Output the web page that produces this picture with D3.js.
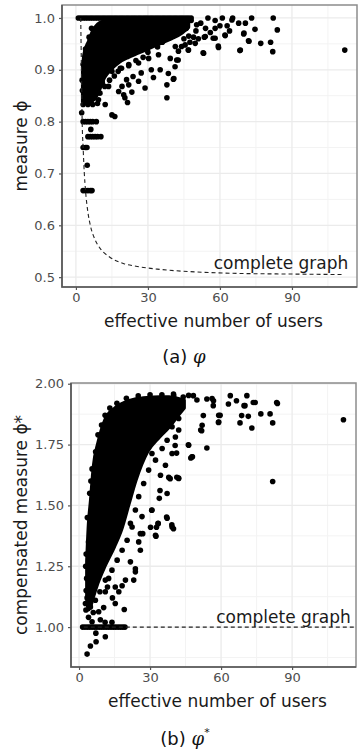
<!DOCTYPE html>
<html>
<head>
<meta charset="utf-8">
<script src="https://cdn.jsdelivr.net/npm/d3@7"></script>
<style>
  body { margin: 0; background: #fff; }
  svg { display: block; font-family: "DejaVu Sans", sans-serif; }
</style>
</head>
<body>
<script>
// ---- panel (a): measure phi ----
const ticksXA = [0, 30, 60, 90];
const minorXA = [15, 45, 75, 105];
const ticksYA = [0.5, 0.6, 0.7, 0.8, 0.9, 1.0];
const minorYA = [0.55, 0.65, 0.75, 0.85, 0.95];

// saturated cloud: [x, low, high]
const coreA = [
  [2.7, 0.838, 0.9], [3.3, 0.836, 0.93], [5.3, 0.836, 0.956], [7, 0.84, 0.976],
  [9, 0.852, 0.988], [12, 0.885, 0.995], [15, 0.902, 1.0], [18, 0.914, 1.0],
  [22, 0.924, 1.0], [26, 0.932, 1.0], [30, 0.94, 1.0], [35, 0.95, 1.0],
  [40, 0.96, 1.0], [44, 0.97, 1.0], [47, 0.982, 1.0]
];
// row of users with phi = 1
const barA = [1, 2, 3, 4, 5, 6, 7, 8, 9, 10, 11, 12, 13, 14, 15, 16, 17, 18, 19, 20, 21, 22, 23, 24,
  25, 26, 27, 28, 29, 30, 31, 32, 33, 34, 35, 36, 37, 38, 39, 40, 41, 42, 43, 44, 45, 46, 47, 48];
const pointsA = [
  [37.9, 0.846], [37.9, 0.871], [40.6, 0.882], [32.3, 0.885], [28.8, 0.865], [23.3, 0.857], [19.9, 0.852],
  [21.5, 0.837], [15, 0.813], [16.2, 0.81], [26.1, 0.878], [35.1, 0.9], [38.5, 0.893], [42, 0.919],
  [39.3, 0.922], [31.4, 0.9], [27.2, 0.894], [23.8, 0.887], [17.8, 0.858], [19.2, 0.868], [22, 0.871],
  [13.6, 0.868], [12.2, 0.833], [9.4, 0.842], [20.4, 0.846], [17.6, 0.897], [21.1, 0.881],
  [53.2, 0.932], [53.9, 0.964], [58, 0.961], [59.4, 0.943], [62.2, 0.966], [68.5, 0.938], [69.9, 0.969],
  [71.9, 0.956], [46.9, 0.938], [49.7, 0.951], [58, 0.98], [65, 0.996], [70.6, 0.99], [45.5, 0.948],
  [42.7, 0.936], [82.2, 1.0], [83.9, 0.977], [82, 0.935], [81.1, 0.953], [77, 0.951], [72.1, 0.955],
  [68.3, 0.937], [70, 0.971], [74.6, 0.978], [73.2, 1.0], [65.3, 1.0], [67.8, 0.99], [62.1, 0.967],
  [59.3, 0.946], [53, 0.933], [57.2, 0.961], [53.5, 0.963], [112, 0.938], [40.8, 0.883], [42.6, 0.919],
  [41.3, 0.906], [47.5, 0.953], [46.8, 0.938], [50.3, 0.987],
  [44, 0.99], [46, 0.98], [48, 0.995], [50, 0.975], [52, 0.99], [54, 0.98], [55, 1.0], [56, 0.972],
  [58, 0.995], [60, 0.985], [61, 1.0], [63, 0.985], [64, 0.975], [47, 0.965], [45, 0.96], [49, 0.963],
  [51, 0.96], [44, 0.945], [43, 0.975], [41, 0.97], [39, 0.962], [36, 0.953], [34, 0.944], [30, 0.934],
  [28, 0.924], [25, 0.918], [22, 0.908], [19, 0.903], [16, 0.888], [14, 0.88], [12, 0.868], [10, 0.855],
  [11, 0.875], [6.5, 0.98], [5.5, 0.963], [4, 0.94], [3, 0.91], [2.6, 0.88],
  [15, 0.897], [18.5, 0.903], [22, 0.91], [26.1, 0.913], [30.3, 0.922], [34.4, 0.929], [41.4, 0.945],
  [10.8, 0.878], [8.75, 0.858], [2.7, 0.86], [4.5, 0.84], [7.5, 0.845],
  [3, 0.8], [4, 0.8], [5, 0.8], [6, 0.8], [7, 0.8], [8.5, 0.8],
  [5, 0.771], [6, 0.771], [7, 0.771], [8, 0.771], [9, 0.771], [10.4, 0.771], [6.2, 0.785],
  [3, 0.75], [4, 0.75], [4.6, 0.75], [4.7, 0.716],
  [3, 0.667], [4, 0.667], [5, 0.667], [6, 0.667], [6.7, 0.667],
  [2.4, 0.817], [3, 0.833], [5, 0.833], [7, 0.833], [9, 0.835]
];
// complete graph reference
const refA = [
  [2, 1.0], [2.3, 0.9], [2.6, 0.8], [3, 0.75], [3.5, 0.7], [4, 0.667], [5, 0.625], [6, 0.6],
  [8, 0.572], [10, 0.556], [14, 0.539], [20, 0.526], [25, 0.521], [35, 0.515], [50, 0.51],
  [70, 0.507], [90, 0.506], [111, 0.505]
];

// ---- panel (b): compensated measure phi* ----
const ticksXB = [0, 30, 60, 90];
const minorXB = [15, 45, 75, 105];
const ticksYB = [1.0, 1.25, 1.5, 1.75, 2.0];
const minorYB = [0.875, 1.125, 1.375, 1.625, 1.875];

const coreB = [
  [3.2, 1.12, 1.27], [3.9, 1.07, 1.42], [4.8, 1.08, 1.52], [6, 1.12, 1.66], [8, 1.18, 1.76],
  [11, 1.25, 1.855], [15, 1.33, 1.9], [18, 1.4, 1.918], [21, 1.5, 1.93], [24, 1.6, 1.938],
  [29, 1.72, 1.944], [34, 1.78, 1.946], [38, 1.82, 1.946], [42, 1.87, 1.94], [44.5, 1.9, 1.932]
];
const pointsB = [
  [111.7, 1.852], [81.8, 1.598], [81.8, 1.839], [80.7, 1.876], [76.8, 1.876], [83.8, 1.919], [73, 1.818],
  [71.5, 1.866], [68.7, 1.869], [68, 1.839], [69.7, 1.91], [74.4, 1.923], [58.9, 1.841], [59.6, 1.87],
  [54, 1.736], [52.5, 1.869], [51.8, 1.807], [47.2, 1.695], [47.9, 1.7], [46.2, 1.749], [42, 1.612],
  [38.5, 1.61], [39.9, 1.404], [39.2, 1.42], [40.6, 1.746], [41.2, 1.715], [56.7, 1.91], [63.1, 1.917],
  [66.5, 1.93], [39.9, 1.958], [48.3, 1.951], [54, 1.937], [63.9, 1.951], [70.9, 1.951], [73.6, 1.923],
  [83.5, 1.923], [70.1, 1.91], [56.8, 1.93], [46.3, 1.747], [47.7, 1.7], [42.1, 1.611], [37.9, 1.615],
  [36.5, 1.665], [34.4, 1.624], [37.2, 1.549], [33.9, 1.529], [30.8, 1.481], [37.2, 1.447], [33.4, 1.426],
  [26.6, 1.454], [30.8, 1.713], [39.3, 1.713], [52, 1.829], [51.4, 1.81], [59, 1.843], [59, 1.87],
  [40.7, 1.781], [42.1, 1.81], [56.2, 1.939], [46.3, 1.952], [49.8, 1.933], [37, 1.452], [32.5, 1.373],
  [32.7, 1.41], [26.9, 1.384], [41.3, 1.616], [34.2, 1.561], [30.7, 1.48],
  [39.3, 1.823], [42.1, 1.857], [37.2, 1.768], [35.1, 1.734], [32.3, 1.686], [29.4, 1.645], [27.3, 1.59],
  [25.2, 1.536], [23.8, 1.481], [21.7, 1.426], [22.4, 1.411], [20.3, 1.357], [18.2, 1.316], [16.1, 1.275],
  [13.9, 1.234], [11.1, 1.193], [8.8, 1.145], [6.9, 1.11], [4.8, 1.083],
  [3.4, 0.889], [4.8, 0.922], [7.2, 0.94], [11.1, 0.96],
  [1.5, 1], [2.5, 1], [3.5, 1], [4.5, 1], [5.5, 1], [6.5, 1], [7.5, 1], [8.5, 1], [9.5, 1], [10.5, 1],
  [11.5, 1], [12.5, 1], [13.5, 1], [14.5, 1], [15.5, 1], [16.5, 1], [17.5, 1], [18.5, 1], [19.4, 1],
  [5.5, 1.022], [7.1, 0.975], [13.9, 1.02], [2.7, 1.097], [2.9, 1.07], [8.3, 1.063], [10.4, 1.08],
  [19.1, 1.072], [15.3, 1.097], [14.1, 1.12], [16.8, 1.145], [18.2, 1.17], [19.6, 1.193], [23.1, 1.193],
  [23.8, 1.227], [25.9, 1.316], [25.9, 1.384], [32.3, 1.377], [30.2, 1.41], [33.4, 1.425], [39.3, 1.411],
  [25.2, 1.35], [21.7, 1.268], [23.8, 1.24], [12.5, 1.2], [12, 1.165], [15.3, 1.165], [11.1, 1.145],
  [3.4, 1.12], [4.8, 1.145], [9, 1.03], [11, 1.02], [4, 1.04], [6, 1.06], [3, 1.15], [3.2, 1.2],
  [2.8, 1.25], [3, 1.3], [4, 1.35], [3.5, 1.45], [4.5, 1.55], [5, 1.6], [5.5, 1.65], [7, 1.72], [8, 1.79],
  [9.5, 1.83], [11, 1.87], [13, 1.9], [16, 1.92], [20, 1.94], [25, 1.95], [30, 1.955], [35, 1.955],
  [40, 1.95], [44, 1.945]
];
const refB = [[2, 1.0], [117, 1.0]];

const W = 358, H = 753;
const svg = d3.select('body').append('svg').attr('width', W).attr('height', H);
svg.append('rect').attr('width', W).attr('height', H).attr('fill', '#fff');

function panel(o) {
  const x = d3.scaleLinear().domain(o.xDomain).range([o.left, o.right]);
  const y = d3.scaleLinear().domain(o.yDomain).range([o.bottom, o.top]);
  const g = svg.append('g');

  g.append('clipPath').attr('id', o.id)
    .append('rect').attr('x', o.left).attr('y', o.top)
    .attr('width', o.right - o.left).attr('height', o.bottom - o.top);

  // grid
  g.selectAll(null).data(o.minorY).enter().append('line')
    .attr('x1', o.left).attr('x2', o.right).attr('y1', d => y(d)).attr('y2', d => y(d))
    .attr('stroke', '#f3f3f3').attr('stroke-width', 1);
  g.selectAll(null).data(o.minorX).enter().append('line')
    .attr('y1', o.top).attr('y2', o.bottom).attr('x1', d => x(d)).attr('x2', d => x(d))
    .attr('stroke', '#f3f3f3').attr('stroke-width', 1);
  g.selectAll(null).data(o.ticksY).enter().append('line')
    .attr('x1', o.left).attr('x2', o.right).attr('y1', d => y(d)).attr('y2', d => y(d))
    .attr('stroke', '#ebebeb').attr('stroke-width', 1.3);
  g.selectAll(null).data(o.ticksX).enter().append('line')
    .attr('y1', o.top).attr('y2', o.bottom).attr('x1', d => x(d)).attr('x2', d => x(d))
    .attr('stroke', '#ebebeb').attr('stroke-width', 1.3);

  const plot = g.append('g').attr('clip-path', `url(#${o.id})`);

  // dense part of the cloud
  const area = d3.area().x(d => x(d[0])).y0(d => y(d[1])).y1(d => y(d[2])).curve(d3.curveMonotoneX);
  plot.append('path').datum(o.core).attr('d', area)
    .attr('fill', '#000').attr('stroke', '#000').attr('stroke-width', 3).attr('stroke-linejoin', 'round');

  plot.selectAll(null).data(o.points).enter().append('circle')
    .attr('cx', d => x(d[0])).attr('cy', d => y(d[1])).attr('r', 2.8).attr('fill', '#000');

  // reference line
  plot.append('path').datum(o.ref)
    .attr('d', d3.line().x(d => x(d[0])).y(d => y(d[1])).curve(d3.curveMonotoneX))
    .attr('fill', 'none').attr('stroke', '#222').attr('stroke-width', 1.1)
    .attr('stroke-dasharray', '4,3');

  g.append('text').attr('x', x(o.labelAt[0])).attr('y', y(o.labelAt[1]))
    .attr('text-anchor', 'end').attr('font-size', 17).attr('fill', '#1a1a1a')
    .text('complete graph');

  // frame
  g.append('rect').attr('x', o.left).attr('y', o.top)
    .attr('width', o.right - o.left).attr('height', o.bottom - o.top)
    .attr('fill', 'none').attr('stroke', '#8c8c8c').attr('stroke-width', 1.5);
  g.append('path')
    .attr('d', `M${o.left},${o.top}V${o.bottom}H${o.right}`)
    .attr('fill', 'none').attr('stroke', '#555').attr('stroke-width', 1.6);

  // axes
  const ax = g.append('g').attr('transform', `translate(0,${o.bottom})`)
    .call(d3.axisBottom(x).tickValues(o.ticksX).tickSize(3).tickPadding(3).tickFormat(d3.format('d')));
  const ay = g.append('g').attr('transform', `translate(${o.left},0)`)
    .call(d3.axisLeft(y).tickValues(o.ticksY).tickSize(3).tickPadding(4).tickFormat(d3.format(o.yFormat)));
  [ax, ay].forEach(a => {
    a.select('.domain').remove();
    a.selectAll('.tick line').attr('stroke', '#555').attr('stroke-width', 1.2);
    a.selectAll('.tick text').attr('fill', '#4d4d4d').attr('font-size', 13)
      .attr('font-family', '"DejaVu Sans", sans-serif');
  });

  g.append('text').attr('x', (o.left + o.right) / 2 + 4).attr('y', o.bottom + 40)
    .attr('text-anchor', 'middle').attr('font-size', 17).attr('fill', '#1a1a1a')
    .text('effective number of users');
  g.append('text')
    .attr('transform', `translate(27,${(o.top + o.bottom) / 2}) rotate(-90)`)
    .attr('text-anchor', 'middle').attr('font-size', 17).attr('fill', '#1a1a1a')
    .text(o.yTitle);

  const cap = g.append('text').attr('x', o.capX).attr('y', o.capY)
    .attr('text-anchor', 'middle').attr('font-size', 18).attr('fill', '#111');
  cap.append('tspan').text(o.capTag + ' ');
  cap.append('tspan').attr('font-family', '"DejaVu Serif", serif').attr('font-style', 'italic').text('φ');
  if (o.star) cap.append('tspan').attr('font-size', 11).attr('dy', -9).text('*');
}

panel({
  id: 'clipA', left: 62, right: 357, top: 5, bottom: 287,
  xDomain: [-5.8, 117.1], yDomain: [0.481, 1.025],
  ticksX: ticksXA, minorX: minorXA, ticksY: ticksYA, minorY: minorYA, yFormat: '.1f',
  core: coreA, points: pointsA.concat(barA.map(v => [v, 1.0])), ref: refA,
  labelAt: [113.5, 0.515], yTitle: 'measure ϕ', capTag: '(a)', capX: 184, capY: 363, star: false
});

panel({
  id: 'clipB', left: 71, right: 356, top: 383, bottom: 667,
  xDomain: [-3.4, 117], yDomain: [0.836, 2.003],
  ticksX: ticksXB, minorX: minorXB, ticksY: ticksYB, minorY: minorYB, yFormat: '.2f',
  core: coreB, points: pointsB, ref: refB,
  labelAt: [114.8, 1.016], yTitle: 'compensated measure ϕ*', capTag: '(b)', capX: 185, capY: 745, star: true
});
</script>
</body>
</html>
